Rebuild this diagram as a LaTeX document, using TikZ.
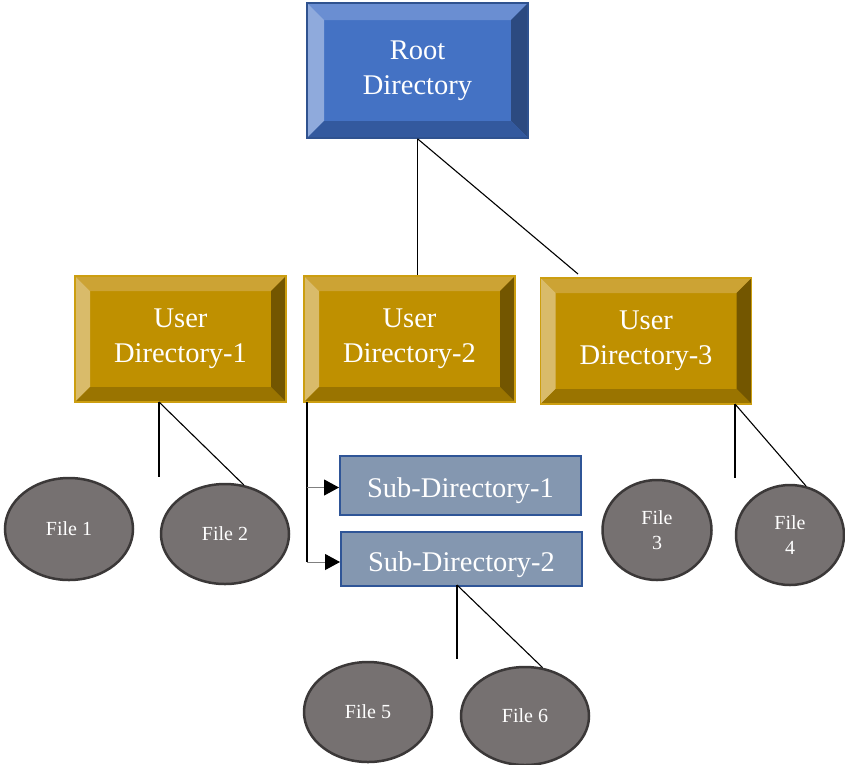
\documentclass[tikz,border=0pt]{standalone}
\usepackage{fontspec}
\setmainfont{Liberation Serif}
\usetikzlibrary{arrows.meta, shapes.geometric}

% blue bevel set
\definecolor{rootFace}{HTML}{4472C4}
\definecolor{rootTop}{HTML}{6A8ED2}
\definecolor{rootLeft}{HTML}{8FAADC}
\definecolor{rootRight}{HTML}{2C4A80}
\definecolor{rootBottom}{HTML}{33599E}
\definecolor{rootLine}{HTML}{2F528F}
% gold bevel set
\definecolor{userFace}{HTML}{BF9000}
\definecolor{userTop}{HTML}{CCA334}
\definecolor{userLeft}{HTML}{D9BB6A}
\definecolor{userRight}{HTML}{735600}
\definecolor{userBottom}{HTML}{9A7400}
\definecolor{userLine}{HTML}{CC9E10}
% plain boxes and files
\definecolor{subFace}{HTML}{8497B0}
\definecolor{subLine}{HTML}{2F5597}
\definecolor{fileFace}{HTML}{767171}
\definecolor{fileLine}{HTML}{3B3838}

\tikzset{
  bevel size/.store in=\bevelsize, bevel size=15pt,
  bevelbox/.style n args={6}{
    rectangle, inner sep=0pt, align=center, text=white,
    font=\fontsize{28.5}{35}\selectfont,
    fill=#1, draw=#6, line width=1.5pt,
    path picture={
      \fill[#2] (path picture bounding box.north west)
        -- (path picture bounding box.north east)
        -- ([xshift=-\bevelsize,yshift=-\bevelsize]path picture bounding box.north east)
        -- ([xshift=\bevelsize,yshift=-\bevelsize]path picture bounding box.north west) -- cycle;
      \fill[#3] (path picture bounding box.north west)
        -- (path picture bounding box.south west)
        -- ([xshift=\bevelsize,yshift=\bevelsize]path picture bounding box.south west)
        -- ([xshift=\bevelsize,yshift=-\bevelsize]path picture bounding box.north west) -- cycle;
      \fill[#4] (path picture bounding box.north east)
        -- (path picture bounding box.south east)
        -- ([xshift=-\bevelsize,yshift=\bevelsize]path picture bounding box.south east)
        -- ([xshift=-\bevelsize,yshift=-\bevelsize]path picture bounding box.north east) -- cycle;
      \fill[#5] (path picture bounding box.south west)
        -- (path picture bounding box.south east)
        -- ([xshift=-\bevelsize,yshift=\bevelsize]path picture bounding box.south east)
        -- ([xshift=\bevelsize,yshift=\bevelsize]path picture bounding box.south west) -- cycle;
    }},
  rootbox/.style={bevelbox={rootFace}{rootTop}{rootLeft}{rootRight}{rootBottom}{rootLine},
    bevel size=17pt, minimum width=221pt, minimum height=135pt},
  userbox/.style={bevelbox={userFace}{userTop}{userLeft}{userRight}{userBottom}{userLine},
    bevel size=15pt, minimum width=211pt, minimum height=126pt},
  subbox/.style={rectangle, inner sep=0pt, fill=subFace, draw=subLine, line width=2pt,
    text=white, font=\fontsize{28.5}{35}\selectfont, minimum width=241pt,
    text height=30pt, text depth=6pt},
  filenode/.style={ellipse, inner sep=0pt, fill=fileFace, draw=fileLine, line width=2.5pt,
    text=white, align=center, font=\fontsize{20}{25}\selectfont},
  link/.style={draw=black, line width=1.1pt},
  branch/.style={draw=gray, line width=1pt,
    -{Triangle[color=black, length=15pt, width=16pt]}},
}

\begin{document}
\begin{tikzpicture}[x=1pt, y=-1pt]
\useasboundingbox (0,0) rectangle (845,764);

% directory boxes
\node[rootbox] (root) at (417.5,70.5) {Root\\Directory};
\node[userbox] (ud1) at (180.5,339) {User\\Directory-1};
\node[userbox] (ud2) at (409.5,339) {User\\Directory-2};
\node[userbox] (ud3) at (646,341) {User\\Directory-3};
\node[subbox, minimum height=59pt] (sd1) at (460.5,485) {Sub-Directory-1};
\node[subbox, minimum height=54pt] (sd2) at (461.5,559) {Sub-Directory-2};

% files
\node[filenode, minimum width=128pt, minimum height=102pt] (f1) at (69,529) {File 1};
\node[filenode, minimum width=128pt, minimum height=100pt] (f2) at (225,534) {File 2};
\node[filenode, minimum width=109pt, minimum height=100pt] (f3) at (657,530) {File\\3};
\node[filenode, minimum width=108pt, minimum height=100pt] (f4) at (790,535) {File\\4};
\node[filenode, minimum width=128pt, minimum height=100pt] (f5) at (368,712) {File 5};
\node[filenode, minimum width=128pt, minimum height=98pt] (f6) at (525,716) {File 6};

% connector end points
\coordinate (rootTail) at (578,274);
\coordinate (u1) at (159,402);
\coordinate (u1Tail) at (159,477);
\coordinate (u3) at (735,404);
\coordinate (u3Tail) at (735,478);
\coordinate (s2) at (457,585);
\coordinate (s2Tail) at (457,659);
\coordinate (u2) at (307,402);
\coordinate (in1) at ([yshift=-2.5pt]sd1.west);
\coordinate (in2) at ([yshift=-3pt]sd2.west);

% connectors
\draw[link] (root.south) -- (root.south |- ud2.north);
\draw[link] (root.south) -- (rootTail);
\draw[link] (u1) -- (u1Tail);
\draw[link] (u1) -- (f2.69);
\draw[link] (u3) -- (u3Tail);
\draw[link] (u3) -- (f4.72);
\draw[link] (s2) -- (s2Tail);
\draw[link] (s2) -- (f6.70);
\draw[link] (u2) -- (u2 |- in2);
\draw[branch] (u2 |- in1) -- (in1);
\draw[branch] (u2 |- in2) -- (in2);
\end{tikzpicture}
\end{document}
